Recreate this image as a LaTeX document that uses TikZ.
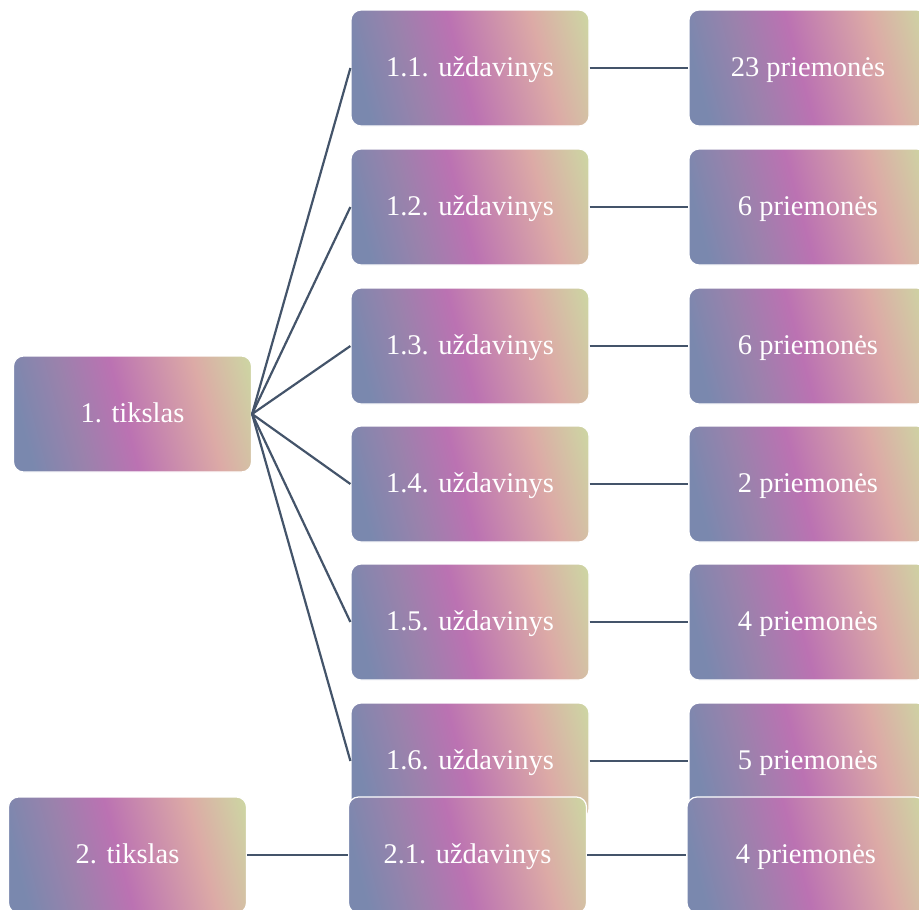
\documentclass[tikz,border=0pt]{standalone}
\usepackage{fontspec}
\setmainfont{Liberation Serif}
\usetikzlibrary{backgrounds}

% colores del degradado
\definecolor{azul}{HTML}{7A88AE}
\definecolor{malva}{HTML}{9A82AC}
\definecolor{rosa}{HTML}{BB72B2}
\definecolor{melocoton}{HTML}{DCAAA6}
\definecolor{oliva}{HTML}{CDD5A3}
\definecolor{linea}{HTML}{44546A}

\pgfdeclarehorizontalshading{degradado}{100bp}{
	color(0bp)=(azul); color(24bp)=(azul); color(36bp)=(malva);
	color(48bp)=(rosa); color(67bp)=(melocoton); color(80bp)=(oliva);
	color(100bp)=(oliva)}

\begin{document}
\begin{tikzpicture}[
	x = 1pt, y = -1pt,
	caja/.style = {
		shading = degradado, shading angle = 15,
		draw = white, line width = 1.2pt,
		rounded corners = 10pt,
		minimum width = 238pt, minimum height = 116pt,
		inner sep = 0pt, text = white,
		text height = 22pt, text depth = 6pt,
		font = \fontsize{28.5pt}{34pt}\selectfont
	},
	conector/.style = {draw = linea, line width = 2.2pt}
]

	% márgenes del dibujo
	\useasboundingbox (0,0) rectangle (919,910);

	% objetivos
	\node[caja] (t1) at (132.5,414) {1. tikslas};

	% tareas y medidas del primer objetivo
	\foreach \i/\n/\y in {1/23/68,2/6/207,3/6/346,4/2/484,5/4/622,6/5/761} {
		\node[caja] (u1\i) at (470,\y) {1.\i. uždavinys};
		\node[caja] (p1\i) at (808,\y) {\n\ priemonės};
	}

	% segundo objetivo
	\node[caja] (t2) at (127.5,855) {2. tikslas};
	\node[caja] (u21) at (467.5,855) {2.1. uždavinys};
	\node[caja] (p21) at (806,855) {4 priemonės};

	% conectores
	{[on background layer]
	\foreach \i in {1,...,6} {
		\draw[conector] (t1.east) -- (u1\i.west);
		\draw[conector] (u1\i.east) -- (p1\i.west);
	}
	\draw[conector] (t2) -- (u21);
	\draw[conector] (u21) -- (p21);
	}

\end{tikzpicture}
\end{document}
